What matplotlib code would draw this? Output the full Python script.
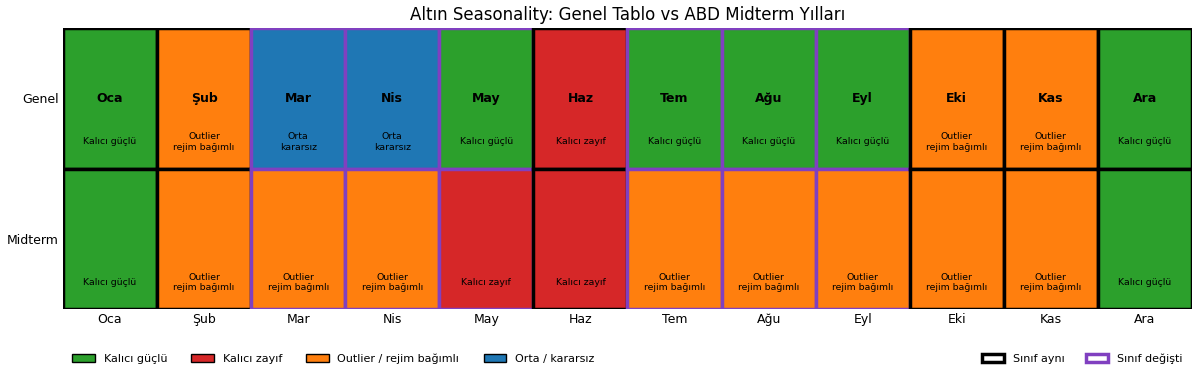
import matplotlib.pyplot as plt
from matplotlib.patches import Rectangle, Patch

months = ["Oca", "Şub", "Mar", "Nis", "May", "Haz", "Tem", "Ağu", "Eyl", "Eki", "Kas", "Ara"]
rows = ["Genel", "Midterm"]

genel = ["guclu", "outlier", "orta", "orta", "guclu", "zayif",
         "guclu", "guclu", "guclu", "outlier", "outlier", "guclu"]
midterm = ["guclu", "outlier", "outlier", "outlier", "zayif", "zayif",
           "outlier", "outlier", "outlier", "outlier", "outlier", "guclu"]

colors = {"guclu": "#2ca02c", "zayif": "#d62728", "outlier": "#ff7f0e", "orta": "#1f77b4"}
cell_text = {"guclu": "Kalıcı güçlü", "zayif": "Kalıcı zayıf",
             "outlier": "Outlier\nrejim bağımlı", "orta": "Orta\nkararsız"}
legend_names = {"guclu": "Kalıcı güçlü", "zayif": "Kalıcı zayıf",
                "outlier": "Outlier / rejim bağımlı", "orta": "Orta / kararsız"}

same_col = "black"
changed_col = "#8040c0"

fig = plt.figure(figsize=(12, 3.77), dpi=100)
ax = fig.add_axes([0.0525, 0.1804, 0.9408, 0.7453])

for j, m in enumerate(months):
    edge = same_col if genel[j] == midterm[j] else changed_col
    for i, data in enumerate([genel, midterm]):
        cls = data[j]
        ax.add_patch(Rectangle((j - 0.5, i - 0.5), 1, 1, facecolor=colors[cls],
                               edgecolor=edge, linewidth=2.5))
        if i == 0:
            ax.text(j, i, m, ha="center", va="center", fontsize=9, fontweight="bold")
        ax.text(j, i + 0.31, cell_text[cls], ha="center", va="center", fontsize=6.75)

ax.set_xlim(-0.5, len(months) - 0.5)
ax.set_ylim(1.5, -0.5)
ax.set_xticks(range(len(months)))
ax.set_xticklabels(months, fontsize=9)
ax.set_yticks(range(len(rows)))
ax.set_yticklabels(rows, fontsize=9)
ax.tick_params(length=0, pad=3)
for s in ax.spines.values():
    s.set_visible(False)
ax.set_title("Altın Seasonality: Genel Tablo vs ABD Midterm Yılları", fontsize=12, pad=6)

h1 = [Patch(facecolor=colors[k], edgecolor="black", label=legend_names[k])
      for k in ["guclu", "zayif", "outlier", "orta"]]
fig.legend(handles=h1, loc="lower left", bbox_to_anchor=(0.052, 0.008), ncol=4,
           frameon=False, fontsize=8, columnspacing=2.2)
h2 = [Patch(facecolor="white", edgecolor=same_col, linewidth=2.5, label="Sınıf aynı"),
      Patch(facecolor="white", edgecolor=changed_col, linewidth=2.5, label="Sınıf değişti")]
fig.legend(handles=h2, loc="lower right", bbox_to_anchor=(0.9935, 0.008), ncol=2,
           frameon=False, fontsize=8, columnspacing=1.9)

fig.savefig("out.png", dpi=100)
